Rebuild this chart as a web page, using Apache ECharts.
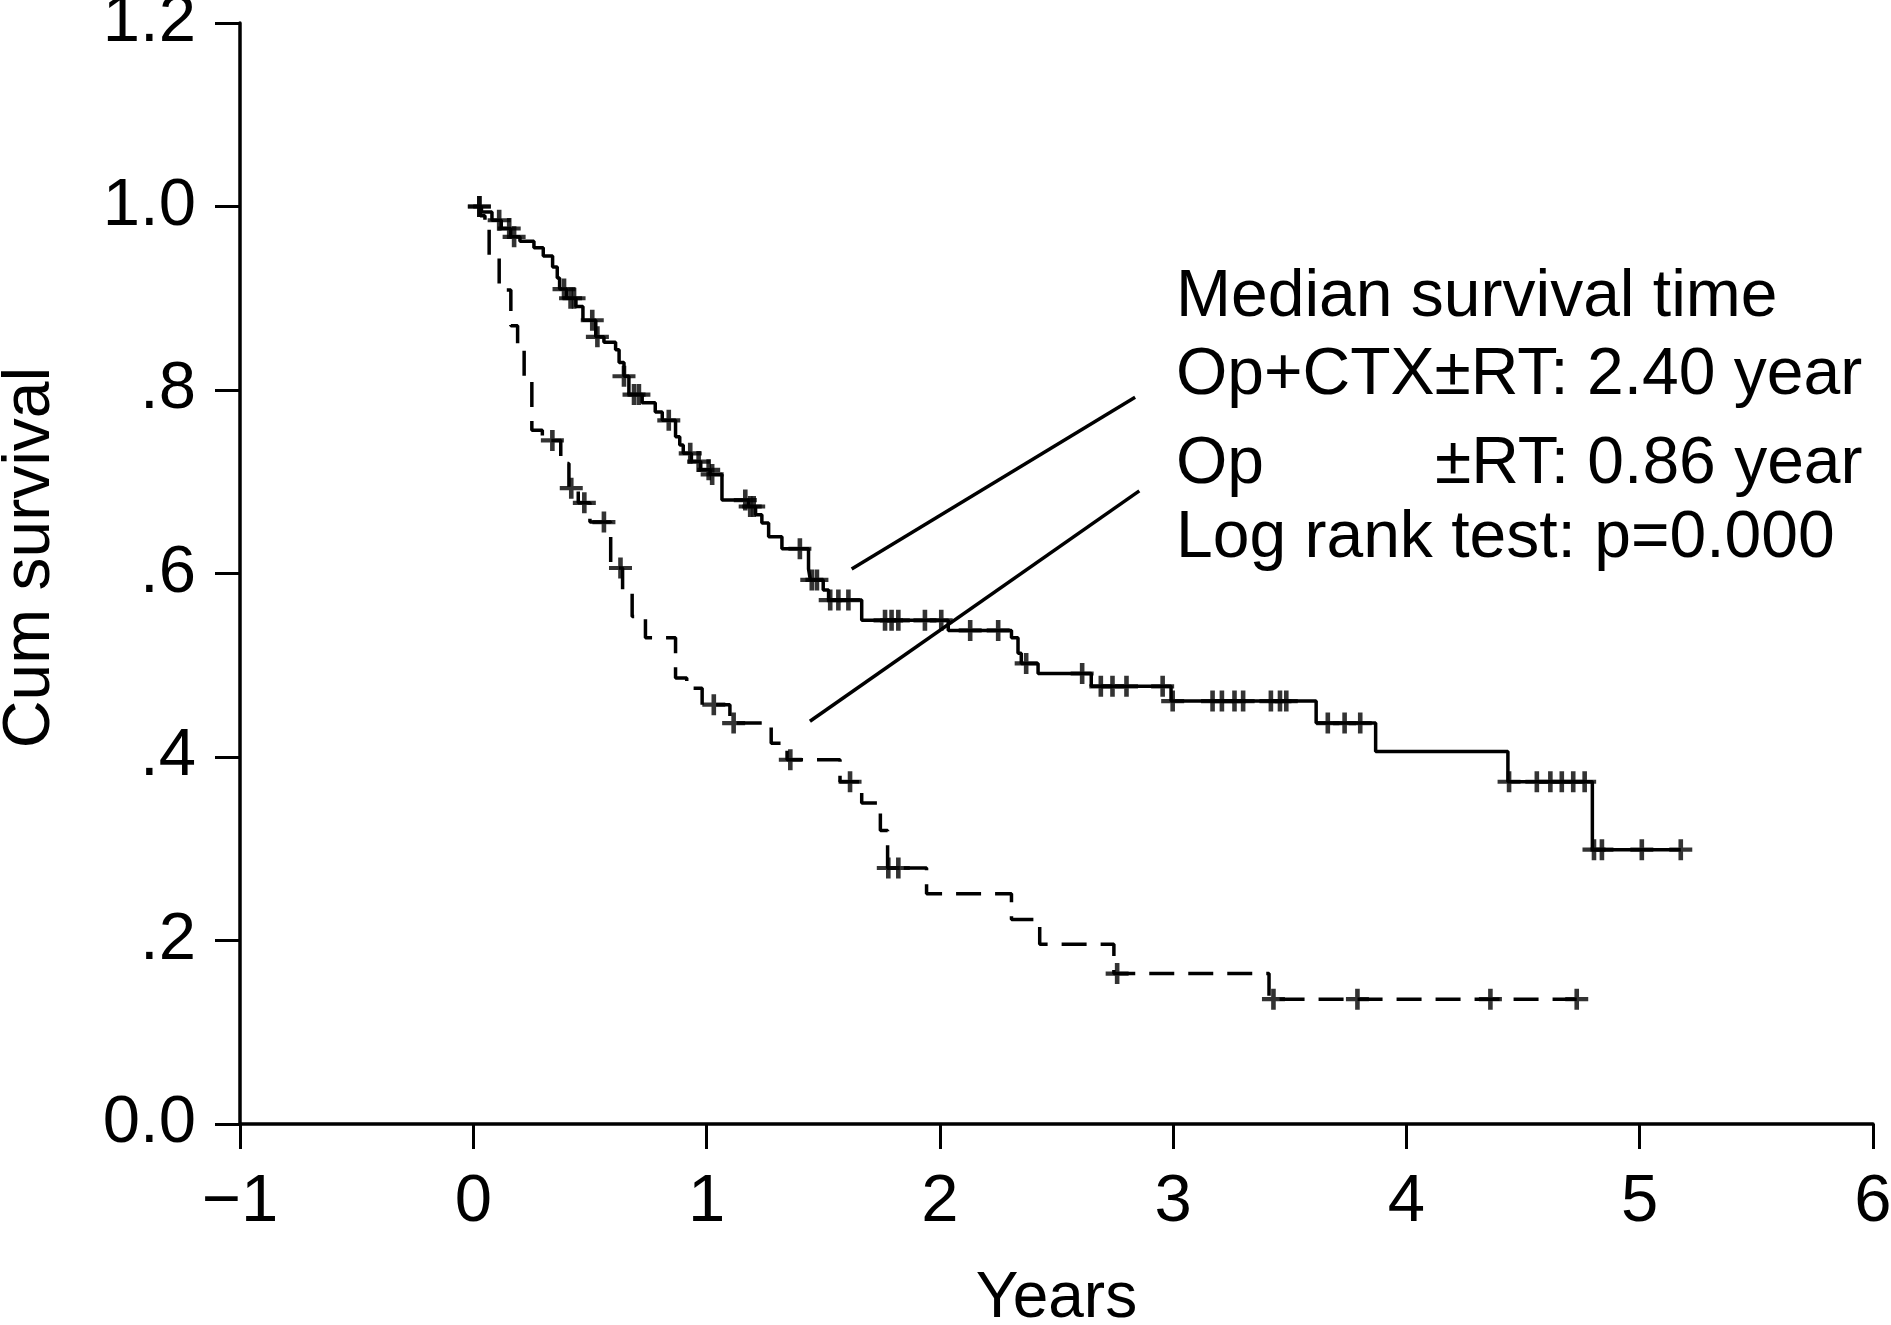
<!DOCTYPE html>
<html>
<head>
<meta charset="utf-8">
<script src="https://cdn.jsdelivr.net/npm/echarts@6/dist/echarts.min.js"></script>
<style>
html,body{margin:0;padding:0;background:#ffffff;}
#chart{width:1891px;height:1325px;}
</style>
</head>
<body>
<div id="chart"></div>
<script>
// ---- tick labels ----
const xTickLabels = ['\u22121', '0', '1', '2', '3', '4', '5', '6'];
const yTickLabels = ['0.0', '.2', '.4', '.6', '.8', '1.0', '1.2'];

// ---- Op+CTX±RT (solid): event times (years) and survival after each step ----
const opCtxTime = [0.000, 0.035, 0.080, 0.120, 0.160, 0.200, 0.260, 0.300, 0.340, 0.360, 0.370, 0.400, 0.440, 0.470, 0.525, 0.560, 0.610, 0.625, 0.646, 0.667, 0.724, 0.780, 0.810, 0.867, 0.885, 0.900, 0.935, 0.975, 1.015, 1.066, 1.180, 1.210, 1.237, 1.266, 1.323, 1.437, 1.445, 1.500, 1.523, 1.665, 2.036, 2.307, 2.335, 2.349, 2.421, 2.649, 2.991, 3.613, 3.868, 4.435, 4.797, 5.176];
const opCtxSurv = [1.000, 0.994, 0.985, 0.976, 0.967, 0.962, 0.955, 0.946, 0.934, 0.922, 0.910, 0.900, 0.891, 0.876, 0.858, 0.852, 0.844, 0.830, 0.815, 0.795, 0.786, 0.776, 0.767, 0.749, 0.740, 0.731, 0.722, 0.713, 0.708, 0.680, 0.673, 0.664, 0.655, 0.640, 0.627, 0.605, 0.593, 0.582, 0.571, 0.549, 0.538, 0.530, 0.513, 0.502, 0.491, 0.477, 0.461, 0.437, 0.406, 0.373, 0.299, 0.299];
const opCtxCensor = [0.026, 0.111, 0.154, 0.175, 0.389, 0.417, 0.432, 0.510, 0.532, 0.646, 0.689, 0.710, 0.838, 0.930, 0.966, 1.009, 1.024, 1.166, 1.187, 1.202, 1.400, 1.451, 1.473, 1.530, 1.565, 1.608, 1.765, 1.793, 1.822, 1.936, 2.006, 2.130, 2.250, 2.370, 2.610, 2.690, 2.740, 2.800, 2.955, 2.998, 3.169, 3.209, 3.263, 3.300, 3.419, 3.458, 3.485, 3.663, 3.735, 3.802, 4.440, 4.559, 4.617, 4.666, 4.715, 4.764, 4.804, 4.838, 5.009, 5.176];

// ---- Op ±RT (dashed) ----
const opRtTime = [0.000, 0.030, 0.050, 0.068, 0.111, 0.161, 0.190, 0.218, 0.251, 0.296, 0.375, 0.410, 0.450, 0.500, 0.589, 0.640, 0.681, 0.738, 0.867, 0.915, 0.981, 1.100, 1.277, 1.345, 1.572, 1.665, 1.745, 1.776, 1.943, 2.307, 2.428, 2.746, 3.411, 4.730];
const opRtSurv = [1.000, 0.990, 0.975, 0.946, 0.909, 0.870, 0.844, 0.813, 0.756, 0.745, 0.720, 0.693, 0.677, 0.656, 0.606, 0.581, 0.553, 0.530, 0.486, 0.475, 0.457, 0.437, 0.415, 0.397, 0.373, 0.350, 0.320, 0.279, 0.251, 0.223, 0.196, 0.164, 0.136, 0.136];
const opRtCensor = [0.026, 0.339, 0.420, 0.476, 0.560, 0.631, 1.031, 1.116, 1.359, 1.615, 1.779, 1.822, 2.760, 3.430, 3.790, 4.360, 4.730];

// ---- pointer lines from the legend text to the curves ----
const pointerSolid = [[1.622, 0.605], [2.837, 0.792]];
const pointerDashed = [[1.443, 0.439], [2.855, 0.690]];

// ---- annotation text ----
const noteTitle = 'Median survival time';
const noteSolid = 'Op+CTX\u00b1RT: 2.40 year';
const noteDashedA = 'Op';
const noteDashedB = '\u00b1RT: 0.86 year';
const noteTest = 'Log rank test: p=0.000';

const FONT = "'Liberation Sans', Arial, Helvetica, sans-serif";

function zip(t, s) { return t.map((v, i) => [v, s[i]]); }
function survAt(times, surv, t) {
  let v = surv[0];
  for (let i = 0; i < times.length; i++) { if (times[i] <= t) v = surv[i]; }
  return v;
}
function censorPoints(ct, times, surv) { return ct.map(t => [t, survAt(times, surv, t)]); }

const plus = 'path://M8,0H12V8H20V12H12V20H8V12H0V8H8Z';

const chart = echarts.init(document.getElementById('chart'), null, { renderer: 'canvas' });
const option = {
  animation: false,
  backgroundColor: '#ffffff',
  grid: { left: 240, right: 18, top: 23, bottom: 201, containLabel: false, outerBoundsMode: 'none' },
  xAxis: {
    type: 'value', min: -1, max: 6, interval: 1,
    name: 'Years', nameLocation: 'middle', nameGap: 143,
    nameTextStyle: { fontSize: 64, fontFamily: FONT, color: '#000' },
    axisLine: { onZero: false, lineStyle: { color: '#000', width: 3.5 } },
    axisTick: { show: true, inside: false, length: 25, lineStyle: { color: '#000', width: 3 } },
    axisLabel: { margin: 45, fontSize: 67, fontFamily: FONT, color: '#000',
      formatter: v => xTickLabels[Math.round(v) + 1] },
    splitLine: { show: false }
  },
  yAxis: {
    type: 'value', min: 0, max: 1.2, interval: 0.2,
    name: 'Cum survival', nameLocation: 'middle', nameGap: 176,
    nameTextStyle: { fontSize: 66, fontFamily: FONT, color: '#000', padding: [0, 0, 0, 32] },
    axisLine: { onZero: false, lineStyle: { color: '#000', width: 3.5 } },
    axisTick: { show: true, inside: false, length: 25, lineStyle: { color: '#000', width: 3 } },
    axisLabel: { margin: 44, fontSize: 67, fontFamily: FONT, color: '#000',
      formatter: v => yTickLabels[Math.round(v / 0.2)] },
    splitLine: { show: false }
  },
  series: [
    { name: 'Op+CTX\u00b1RT', type: 'line', step: 'end', data: zip(opCtxTime, opCtxSurv),
      showSymbol: false, symbol: 'none', lineStyle: { color: '#000', width: 3.5 }, z: 3 },
    { name: 'Op \u00b1RT', type: 'line', step: 'end', data: zip(opRtTime, opRtSurv),
      showSymbol: false, symbol: 'none', lineStyle: { color: '#000', width: 3.5, type: [25, 14] }, z: 3 },
    { name: 'Op+CTX\u00b1RT censored', type: 'scatter', data: censorPoints(opCtxCensor, opCtxTime, opCtxSurv),
      symbol: plus, symbolSize: [23, 21], itemStyle: { color: '#000' }, z: 4 },
    { name: 'Op \u00b1RT censored', type: 'scatter', data: censorPoints(opRtCensor, opRtTime, opRtSurv),
      symbol: plus, symbolSize: [23, 21], itemStyle: { color: '#000' }, z: 4 },
    { type: 'line', data: pointerSolid, showSymbol: false, symbol: 'none', lineStyle: { color: '#000', width: 3.5 }, z: 2 },
    { type: 'line', data: pointerDashed, showSymbol: false, symbol: 'none', lineStyle: { color: '#000', width: 3.5 }, z: 2 }
  ],
  graphic: [
    { type: 'text', x: 1176, y: 298, style: { text: noteTitle, fontSize: 66, fontFamily: FONT, fill: '#000', verticalAlign: 'middle' } },
    { type: 'text', x: 1176, y: 376, style: { text: noteSolid, fontSize: 66, fontFamily: FONT, fill: '#000', verticalAlign: 'middle' } },
    { type: 'text', x: 1176, y: 465, style: { text: noteDashedA, fontSize: 66, fontFamily: FONT, fill: '#000', verticalAlign: 'middle' } },
    { type: 'text', x: 1435, y: 465, style: { text: noteDashedB, fontSize: 66, fontFamily: FONT, fill: '#000', verticalAlign: 'middle' } },
    { type: 'text', x: 1176, y: 539, style: { text: noteTest, fontSize: 66, fontFamily: FONT, fill: '#000', verticalAlign: 'middle' } }
  ]
};
chart.setOption(option);
</script>
</body>
</html>
